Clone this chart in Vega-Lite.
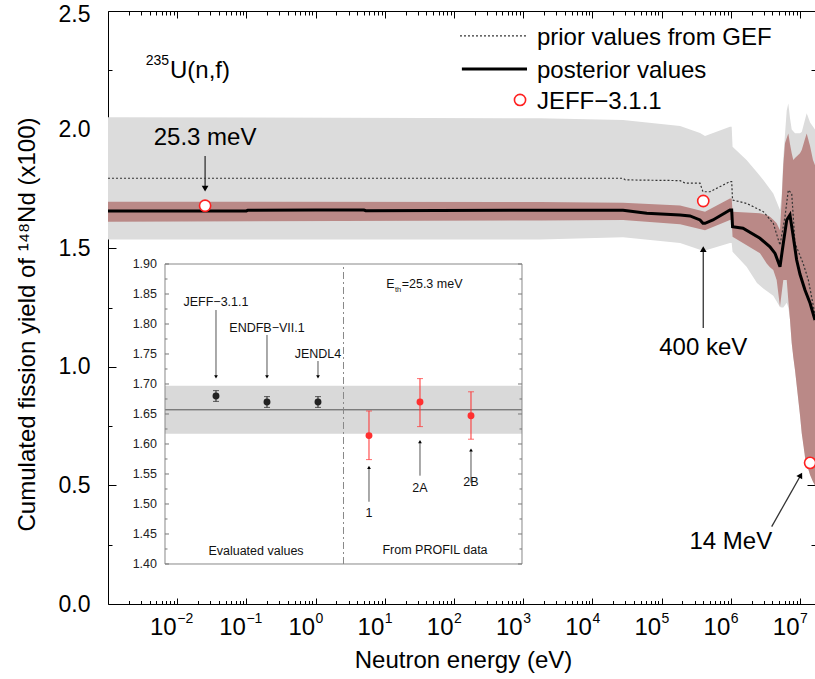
{
  "$schema": "https://vega.github.io/schema/vega-lite/v6.json",
  "width": 707,
  "height": 593,
  "autosize": {"type": "none"},
  "padding": {"left": 108, "top": 11, "right": 0, "bottom": 75},
  "config": {
    "font": "Liberation Sans",
    "view": {"stroke": "black", "strokeWidth": 1},
    "axis": {"grid": false, "domain": false, "labelFont": "Liberation Sans", "titleFont": "Liberation Sans", "tickColor": "black", "labelColor": "black", "titleColor": "black", "titleFontWeight": "normal", "zindex": 1, "tickWidth": 1},
    "text": {"font": "Liberation Sans", "color": "black"}
  },
  "datasets": {
    "gray": [{"E":0.001,"lo":1.537,"hi":2.052},{"E":1750,"lo":1.537,"hi":2.048},{"E":27700,"lo":1.546,"hi":2.040},{"E":185000,"lo":1.522,"hi":2.015},{"E":359000,"lo":1.493,"hi":1.986},{"E":424000,"lo":1.490,"hi":1.973},{"E":972000,"lo":1.522,"hi":2.012},{"E":1030000,"lo":1.522,"hi":2.012},{"E":1060000,"lo":1.485,"hi":1.928},{"E":1690000,"lo":1.422,"hi":1.872},{"E":2390000,"lo":1.353,"hi":1.82},{"E":2950000,"lo":1.33,"hi":1.788},{"E":4110000,"lo":1.30,"hi":1.731},{"E":5140000,"lo":1.252,"hi":1.661},{"E":5430000,"lo":1.25,"hi":1.72},{"E":5740000,"lo":1.25,"hi":1.88},{"E":6070000,"lo":1.26,"hi":1.98},{"E":6430000,"lo":1.27,"hi":2.08},{"E":6780000,"lo":1.25,"hi":2.11},{"E":7160000,"lo":1.20,"hi":2.05},{"E":7590000,"lo":1.10,"hi":2.0},{"E":8470000,"lo":0.987,"hi":1.985},{"E":10000000,"lo":0.797,"hi":1.985},{"E":10600000,"lo":0.72,"hi":1.99},{"E":12500000,"lo":0.59,"hi":2.069},{"E":14000000,"lo":0.544,"hi":2.03},{"E":16475000,"lo":0.50,"hi":2.0}],
    "brown": [{"E":0.001,"lo":1.612,"hi":1.696},{"E":1750,"lo":1.617,"hi":1.695},{"E":27700,"lo":1.619,"hi":1.692},{"E":185000,"lo":1.601,"hi":1.680},{"E":424000,"lo":1.576,"hi":1.654},{"E":972000,"lo":1.619,"hi":1.710},{"E":1030000,"lo":1.619,"hi":1.710},{"E":1060000,"lo":1.548,"hi":1.654},{"E":2640000,"lo":1.479,"hi":1.647},{"E":3300000,"lo":1.436,"hi":1.640},{"E":3680000,"lo":1.420,"hi":1.633},{"E":4110000,"lo":1.408,"hi":1.62},{"E":4600000,"lo":1.366,"hi":1.605},{"E":5140000,"lo":1.253,"hi":1.576},{"E":5430000,"lo":1.31,"hi":1.70},{"E":5740000,"lo":1.366,"hi":1.85},{"E":6070000,"lo":1.366,"hi":1.942},{"E":6430000,"lo":1.366,"hi":1.965},{"E":6780000,"lo":1.28,"hi":1.984},{"E":7160000,"lo":1.20,"hi":1.94},{"E":7590000,"lo":1.10,"hi":1.90},{"E":8000000,"lo":1.04,"hi":1.872},{"E":8470000,"lo":0.987,"hi":1.88},{"E":10000000,"lo":0.797,"hi":1.90},{"E":10600000,"lo":0.72,"hi":1.914},{"E":11800000,"lo":0.62,"hi":1.96},{"E":12500000,"lo":0.59,"hi":1.984},{"E":14000000,"lo":0.544,"hi":1.93},{"E":15400000,"lo":0.515,"hi":1.872},{"E":16475000,"lo":0.50,"hi":1.85}],
    "prior": [{"E":0.001,"v":1.795},{"E":27700,"v":1.795},{"E":30000,"v":1.788},{"E":185000,"v":1.785},{"E":220000,"v":1.774},{"E":359000,"v":1.774},{"E":396000,"v":1.738},{"E":500000,"v":1.738},{"E":972000,"v":1.781},{"E":1030000,"v":1.781},{"E":1060000,"v":1.703},{"E":1690000,"v":1.689},{"E":2950000,"v":1.654},{"E":4110000,"v":1.605},{"E":5140000,"v":1.513},{"E":6070000,"v":1.633},{"E":6780000,"v":1.745},{"E":7590000,"v":1.731},{"E":8470000,"v":1.521},{"E":11100000,"v":1.436},{"E":13200000,"v":1.366},{"E":16475000,"v":1.22}],
    "post": [{"E":0.001,"v":1.657},{"E":0.1,"v":1.657},{"E":0.105,"v":1.660},{"E":1,"v":1.661},{"E":5,"v":1.661},{"E":5.3,"v":1.658},{"E":1750,"v":1.660},{"E":27700,"v":1.660},{"E":61000,"v":1.647},{"E":185000,"v":1.640},{"E":257000,"v":1.636},{"E":359000,"v":1.619},{"E":396000,"v":1.605},{"E":424000,"v":1.605},{"E":553000,"v":1.619},{"E":972000,"v":1.661},{"E":1030000,"v":1.661},{"E":1060000,"v":1.591},{"E":1500000,"v":1.584},{"E":2640000,"v":1.542},{"E":3680000,"v":1.506},{"E":4360000,"v":1.478},{"E":5140000,"v":1.422},{"E":5740000,"v":1.521},{"E":6430000,"v":1.619},{"E":7160000,"v":1.640},{"E":8000000,"v":1.548},{"E":8950000,"v":1.450},{"E":10000000,"v":1.39},{"E":11800000,"v":1.324},{"E":14000000,"v":1.268},{"E":16475000,"v":1.197}],
    "jeff": [{"E":0.0253,"v":1.679},{"E":400000,"v":1.699},{"E":14000000,"v":0.595}],
    "decades": [{"E":0.01,"exp":"−2"},{"E":0.1,"exp":"−1"},{"E":1,"exp":"0"},{"E":10,"exp":"1"},{"E":100,"exp":"2"},{"E":1000,"exp":"3"},{"E":10000,"exp":"4"},{"E":100000,"exp":"5"},{"E":1000000,"exp":"6"},{"E":10000000,"exp":"7"}],
    "notes": [{"E":0.0253,"v":1.963,"t":"25.3 meV"},{"E":400000,"v":1.078,"t":"400 keV"},{"E":1000000,"v":0.263,"t":"14 MeV"}],
    "arrows": [{"E":0.0253,"v":1.889,"E2":0.0253,"v2":1.75},{"E":400000,"v":1.164,"E2":400000,"v2":1.49},{"E":3900000,"v":0.326,"E2":10240000,"v2":0.543}],
    "legendtext": [{"E":1580,"v":2.3567,"t":"prior values from GEF"},{"E":1580,"v":2.2196,"t":"posterior values"},{"E":1580,"v":2.0864,"t":"JEFF−3.1.1"}],
    "inset": [{"i":0,"v":1.680,"lo":1.671,"hi":1.689,"g":"eval"},{"i":1,"v":1.670,"lo":1.661,"hi":1.679,"g":"eval"},{"i":2,"v":1.670,"lo":1.661,"hi":1.679,"g":"eval"},{"i":3,"v":1.614,"lo":1.574,"hi":1.655,"g":"profil"},{"i":4,"v":1.670,"lo":1.629,"hi":1.709,"g":"profil"},{"i":5,"v":1.647,"lo":1.608,"hi":1.687,"g":"profil"}],
    "insetlabels": [{"i":0,"v":1.8372,"t":"JEFF−3.1.1"},{"i":1,"v":1.7938,"t":"ENDFB−VII.1"},{"i":2,"v":1.7495,"t":"JENDL4"},{"i":3,"v":1.4855,"t":"1"},{"i":4,"v":1.5272,"t":"2A"},{"i":5,"v":1.5367,"t":"2B"},{"i":0.784,"v":1.4222,"t":"Evaluated values"},{"i":4.294,"v":1.4233,"t":"From PROFIL data"}],
    "insetarrows": [{"i":0,"a":1.8233,"b":1.712},{"i":1,"a":1.7817,"b":1.712},{"i":2,"a":1.7383,"b":1.712},{"i":3,"a":1.5038,"b":1.561},{"i":4,"a":1.5472,"b":1.604},{"i":5,"a":1.5355,"b":1.590}],
    "insetband": [{"lo":1.617,"hi":1.697,"mean":1.657}],
    "insetmajor": [{"v":1.40},{"v":1.45},{"v":1.50},{"v":1.55},{"v":1.60},{"v":1.65},{"v":1.70},{"v":1.75},{"v":1.80},{"v":1.85},{"v":1.90}],
    "insetminor": [{"v":1.425},{"v":1.475},{"v":1.525},{"v":1.575},{"v":1.625},{"v":1.675},{"v":1.725},{"v":1.775},{"v":1.825},{"v":1.875}],
    "one": [{"E":1,"v":1.6}]
  },
  "resolve": {"scale": {"x": "independent", "y": "independent"}, "axis": {"x": "independent", "y": "independent"}},
  "layer": [
    {
      "layer": [
        {
          "data": {"name": "gray"},
          "mark": {"type": "area", "color": "#dcdcdc"},
          "encoding": {
            "x": {"field": "E", "type": "quantitative", "scale": {"type": "log", "domain": [0.001, 16475000], "nice": false}, "axis": null},
            "y": {"field": "lo", "type": "quantitative", "scale": {"domain": [0, 2.5], "nice": false, "zero": false}, "axis": null},
            "y2": {"field": "hi"}
          }
        },
        {
          "data": {"name": "brown"},
          "mark": {"type": "area", "color": "#ba8987"},
          "encoding": {
            "x": {"field": "E", "type": "quantitative", "scale": {"type": "log", "domain": [0.001, 16475000], "nice": false}, "axis": null},
            "y": {"field": "lo", "type": "quantitative", "scale": {"domain": [0, 2.5], "nice": false, "zero": false}, "axis": null},
            "y2": {"field": "hi"}
          }
        },
        {
          "data": {"name": "prior"},
          "mark": {"type": "line", "color": "#333333", "strokeWidth": 1.2, "strokeDash": [2, 2]},
          "encoding": {
            "x": {"field": "E", "type": "quantitative", "scale": {"type": "log", "domain": [0.001, 16475000], "nice": false}, "axis": null},
            "y": {"field": "v", "type": "quantitative", "scale": {"domain": [0, 2.5], "nice": false, "zero": false}, "axis": null}
          }
        },
        {
          "data": {"name": "post"},
          "mark": {"type": "line", "color": "black", "strokeWidth": 3},
          "encoding": {
            "x": {"field": "E", "type": "quantitative", "scale": {"type": "log", "domain": [0.001, 16475000], "nice": false}, "axis": null},
            "y": {"field": "v", "type": "quantitative", "scale": {"domain": [0, 2.5], "nice": false, "zero": false}, "axis": null}
          }
        },
        {
          "data": {"name": "arrows"},
          "mark": {"type": "rule", "color": "#333333", "strokeWidth": 1.3},
          "encoding": {
            "x": {"field": "E", "type": "quantitative", "scale": {"type": "log", "domain": [0.001, 16475000], "nice": false}, "axis": null},
            "x2": {"field": "E2"},
            "y": {"field": "v", "type": "quantitative", "scale": {"domain": [0, 2.5], "nice": false, "zero": false}, "axis": null},
            "y2": {"field": "v2"}
          }
        },
        {
          "data": {"values": [{"E": 0.0253, "v": 1.751}]},
          "mark": {"type": "point", "shape": "triangle-down", "filled": true, "color": "black", "size": 45, "opacity": 1},
          "encoding": {
            "x": {"field": "E", "type": "quantitative", "scale": {"type": "log", "domain": [0.001, 16475000], "nice": false}, "axis": null},
            "y": {"field": "v", "type": "quantitative", "scale": {"domain": [0, 2.5], "nice": false, "zero": false}, "axis": null}
          }
        },
        {
          "data": {"values": [{"E": 400000, "v": 1.496}]},
          "mark": {"type": "point", "shape": "triangle-up", "filled": true, "color": "black", "size": 45, "opacity": 1},
          "encoding": {
            "x": {"field": "E", "type": "quantitative", "scale": {"type": "log", "domain": [0.001, 16475000], "nice": false}, "axis": null},
            "y": {"field": "v", "type": "quantitative", "scale": {"domain": [0, 2.5], "nice": false, "zero": false}, "axis": null}
          }
        },
        {
          "data": {"values": [{"E": 10240000, "v": 0.543}]},
          "mark": {"type": "point", "shape": "triangle-up", "filled": true, "color": "black", "size": 45, "opacity": 1, "angle": 29},
          "encoding": {
            "x": {"field": "E", "type": "quantitative", "scale": {"type": "log", "domain": [0.001, 16475000], "nice": false}, "axis": null},
            "y": {"field": "v", "type": "quantitative", "scale": {"domain": [0, 2.5], "nice": false, "zero": false}, "axis": null}
          }
        },
        {
          "data": {"name": "jeff"},
          "mark": {"type": "point", "shape": "circle", "filled": true, "fill": "white", "stroke": "#ff2020", "strokeWidth": 1.6, "size": 125, "opacity": 1},
          "encoding": {
            "x": {"field": "E", "type": "quantitative", "scale": {"type": "log", "domain": [0.001, 16475000], "nice": false}, "axis": null},
            "y": {"field": "v", "type": "quantitative", "scale": {"domain": [0, 2.5], "nice": false, "zero": false}, "axis": null}
          }
        },
        {
          "data": {"name": "notes"},
          "mark": {"type": "text", "fontSize": 24, "align": "center", "baseline": "middle"},
          "encoding": {
            "x": {"field": "E", "type": "quantitative", "scale": {"type": "log", "domain": [0.001, 16475000], "nice": false}, "axis": null},
            "y": {"field": "v", "type": "quantitative", "scale": {"domain": [0, 2.5], "nice": false, "zero": false}, "axis": null},
            "text": {"field": "t"}
          }
        },
        {
          "data": {"values": [{"E1": 122, "E2": 1135, "v": 2.395}]},
          "mark": {"type": "rule", "color": "#333333", "strokeWidth": 1.2, "strokeDash": [2, 2]},
          "encoding": {
            "x": {"field": "E1", "type": "quantitative", "scale": {"type": "log", "domain": [0.001, 16475000], "nice": false}, "axis": null},
            "x2": {"field": "E2"},
            "y": {"field": "v", "type": "quantitative", "scale": {"domain": [0, 2.5], "nice": false, "zero": false}, "axis": null}
          }
        },
        {
          "data": {"values": [{"E1": 130, "E2": 1135, "v": 2.2555}]},
          "mark": {"type": "rule", "color": "black", "strokeWidth": 3},
          "encoding": {
            "x": {"field": "E1", "type": "quantitative", "scale": {"type": "log", "domain": [0.001, 16475000], "nice": false}, "axis": null},
            "x2": {"field": "E2"},
            "y": {"field": "v", "type": "quantitative", "scale": {"domain": [0, 2.5], "nice": false, "zero": false}, "axis": null}
          }
        },
        {
          "data": {"values": [{"E": 900, "v": 2.125}]},
          "mark": {"type": "point", "shape": "circle", "filled": true, "fill": "white", "stroke": "#ff2020", "strokeWidth": 1.6, "size": 125, "opacity": 1},
          "encoding": {
            "x": {"field": "E", "type": "quantitative", "scale": {"type": "log", "domain": [0.001, 16475000], "nice": false}, "axis": null},
            "y": {"field": "v", "type": "quantitative", "scale": {"domain": [0, 2.5], "nice": false, "zero": false}, "axis": null}
          }
        },
        {
          "data": {"name": "legendtext"},
          "mark": {"type": "text", "fontSize": 24, "align": "left", "baseline": "alphabetic"},
          "encoding": {
            "x": {"field": "E", "type": "quantitative", "scale": {"type": "log", "domain": [0.001, 16475000], "nice": false}, "axis": null},
            "y": {"field": "v", "type": "quantitative", "scale": {"domain": [0, 2.5], "nice": false, "zero": false}, "axis": null},
            "text": {"field": "t"}
          }
        },
        {
          "data": {"values": [{"E": 0.00787, "v": 2.216, "t": "U(n,f)"}]},
          "mark": {"type": "text", "fontSize": 24, "align": "left", "baseline": "alphabetic"},
          "encoding": {
            "x": {"field": "E", "type": "quantitative", "scale": {"type": "log", "domain": [0.001, 16475000], "nice": false}, "axis": null},
            "y": {"field": "v", "type": "quantitative", "scale": {"domain": [0, 2.5], "nice": false, "zero": false}, "axis": null},
            "text": {"field": "t"}
          }
        },
        {
          "data": {"values": [{"E": 0.00787, "v": 2.272, "t": "235"}]},
          "mark": {"type": "text", "fontSize": 14, "align": "right", "baseline": "alphabetic", "dx": -1},
          "encoding": {
            "x": {"field": "E", "type": "quantitative", "scale": {"type": "log", "domain": [0.001, 16475000], "nice": false}, "axis": null},
            "y": {"field": "v", "type": "quantitative", "scale": {"domain": [0, 2.5], "nice": false, "zero": false}, "axis": null},
            "text": {"field": "t"}
          }
        },
        {
          "data": {"name": "decades"},
          "mark": {"type": "text", "fontSize": 24, "align": "right", "baseline": "alphabetic", "text": "10", "dx": -0.5},
          "encoding": {
            "x": {"field": "E", "type": "quantitative", "scale": {"type": "log", "domain": [0.001, 16475000], "nice": false}, "axis": null},
            "y": {"datum": -0.1307, "type": "quantitative", "scale": {"domain": [0, 2.5], "nice": false, "zero": false}, "axis": null}
          }
        },
        {
          "data": {"name": "decades"},
          "mark": {"type": "text", "fontSize": 14, "align": "left", "baseline": "alphabetic"},
          "encoding": {
            "x": {"field": "E", "type": "quantitative", "scale": {"type": "log", "domain": [0.001, 16475000], "nice": false}, "axis": null},
            "y": {"datum": -0.0814, "type": "quantitative", "scale": {"domain": [0, 2.5], "nice": false, "zero": false}, "axis": null},
            "text": {"field": "exp"}
          }
        }
      ]
    },
    {
      "data": {"name": "one"},
      "mark": {"type": "point", "opacity": 0},
      "encoding": {
        "x": {"field": "E", "type": "quantitative", "scale": {"type": "log", "domain": [0.001, 16475000], "nice": false},
              "axis": {"orient": "bottom", "values": [0.01,0.1,1,10,100,1000,10000,100000,1000000,10000000], "offset": -6, "tickSize": 6, "labels": false, "title": "Neutron energy (eV)", "titleFontSize": 24, "titleX": 355, "titleY": 69, "titleBaseline": "alphabetic", "titleAlign": "center"}},
        "y": {"field": "v", "type": "quantitative", "scale": {"domain": [0, 2.5], "nice": false, "zero": false},
              "axis": {"orient": "left", "values": [0,0.5,1,1.5,2,2.5], "offset": -8, "tickSize": 8, "format": ".1f", "labelFontSize": 23, "labelPadding": 18, "labelBaseline": "middle", "labelAlign": "right", "labelFlush": false, "labelOffset": {"condition": {"test": "datum.value > 2.4", "value": 3}, "value": 0}, "title": "Cumulated fission yield of ¹⁴⁸Nd (x100)", "titleFontSize": 24, "titleX": -89, "titleY": 313, "titleAngle": 270, "titleBaseline": "middle", "titleAlign": "center"}}
      }
    },
    {
      "data": {"name": "one"},
      "mark": {"type": "point", "opacity": 0},
      "encoding": {
        "x": {"field": "E", "type": "quantitative", "scale": {"type": "log", "domain": [0.001, 16475000], "nice": false},
              "axis": {"orient": "bottom", "values": [0.002,0.003,0.004,0.005,0.006,0.007,0.008,0.009,0.02,0.03,0.04,0.05,0.06,0.07,0.08,0.09,0.2,0.3,0.4,0.5,0.6,0.7,0.8,0.9,2,3,4,5,6,7,8,9,20,30,40,50,60,70,80,90,200,300,400,500,600,700,800,900,2000,3000,4000,5000,6000,7000,8000,9000,20000,30000,40000,50000,60000,70000,80000,90000,200000,300000,400000,500000,600000,700000,800000,900000,2000000,3000000,4000000,5000000,6000000,7000000,8000000,9000000], "offset": -3.5, "tickSize": 3.5, "labels": false, "title": null}},
        "y": {"field": "v", "type": "quantitative", "scale": {"domain": [0, 2.5], "nice": false, "zero": false},
              "axis": {"orient": "left", "values": [0.25,0.75,1.25,1.75,2.25], "offset": -4, "tickSize": 4, "labels": false, "title": null}}
      }
    },
    {
      "data": {"name": "one"},
      "mark": {"type": "point", "opacity": 0},
      "encoding": {
        "x": {"field": "E", "type": "quantitative", "scale": {"type": "log", "domain": [0.001, 16475000], "nice": false},
              "axis": {"orient": "top", "values": [0.01,0.1,1,10,100,1000,10000,100000,1000000,10000000], "offset": -7, "tickSize": 7, "labels": false, "title": null}},
        "y": {"field": "v", "type": "quantitative", "scale": {"domain": [0, 2.5], "nice": false, "zero": false},
              "axis": {"orient": "right", "values": [0,0.5,1,1.5,2,2.5], "offset": -8, "tickSize": 8, "labels": false, "title": null}}
      }
    },
    {
      "data": {"name": "one"},
      "mark": {"type": "point", "opacity": 0},
      "encoding": {
        "x": {"field": "E", "type": "quantitative", "scale": {"type": "log", "domain": [0.001, 16475000], "nice": false},
              "axis": {"orient": "top", "values": [0.002,0.003,0.004,0.005,0.006,0.007,0.008,0.009,0.02,0.03,0.04,0.05,0.06,0.07,0.08,0.09,0.2,0.3,0.4,0.5,0.6,0.7,0.8,0.9,2,3,4,5,6,7,8,9,20,30,40,50,60,70,80,90,200,300,400,500,600,700,800,900,2000,3000,4000,5000,6000,7000,8000,9000,20000,30000,40000,50000,60000,70000,80000,90000,200000,300000,400000,500000,600000,700000,800000,900000,2000000,3000000,4000000,5000000,6000000,7000000,8000000,9000000], "offset": -4, "tickSize": 4, "labels": false, "title": null}},
        "y": {"field": "v", "type": "quantitative", "scale": {"domain": [0, 2.5], "nice": false, "zero": false},
              "axis": {"orient": "right", "values": [0.25,0.75,1.25,1.75,2.25], "offset": -4, "tickSize": 4, "labels": false, "title": null}}
      }
    },
    {
      "layer": [
        {
          "data": {"name": "one"},
          "mark": {"type": "rect", "fill": "white", "strokeWidth": 0},
          "encoding": {
            "x": {"datum": -1.94, "type": "quantitative", "scale": {"domain": [-2.1176, 11.7451], "nice": false, "zero": false}, "axis": null},
            "x2": {"datum": 6.37},
            "y": {"datum": 1.3933, "type": "quantitative", "scale": {"domain": [1.333333, 2.321667], "nice": false, "zero": false}, "axis": null},
            "y2": {"datum": 1.91}
          }
        },
        {
          "data": {"name": "insetband"},
          "mark": {"type": "rect", "color": "#d9d9d9"},
          "encoding": {
            "x": {"datum": -1, "type": "quantitative", "scale": {"domain": [-2.1176, 11.7451], "nice": false, "zero": false}, "axis": null},
            "x2": {"datum": 6},
            "y": {"field": "lo", "type": "quantitative", "scale": {"domain": [1.333333, 2.321667], "nice": false, "zero": false}, "axis": null},
            "y2": {"field": "hi"}
          }
        },
        {
          "data": {"name": "insetband"},
          "mark": {"type": "rule", "color": "#555555", "strokeWidth": 1},
          "encoding": {
            "x": {"datum": -1, "type": "quantitative", "scale": {"domain": [-2.1176, 11.7451], "nice": false, "zero": false}, "axis": null},
            "x2": {"datum": 6},
            "y": {"field": "mean", "type": "quantitative", "scale": {"domain": [1.333333, 2.321667], "nice": false, "zero": false}, "axis": null}
          }
        },
        {
          "data": {"name": "one"},
          "mark": {"type": "rule", "color": "#888888", "strokeWidth": 1, "strokeDash": [7, 3, 2, 3]},
          "encoding": {
            "x": {"datum": 2.5, "type": "quantitative", "scale": {"domain": [-2.1176, 11.7451], "nice": false, "zero": false}, "axis": null},
            "y": {"datum": 1.4, "type": "quantitative", "scale": {"domain": [1.333333, 2.321667], "nice": false, "zero": false}, "axis": null},
            "y2": {"datum": 1.9}
          }
        },
        {
          "data": {"name": "one"},
          "mark": {"type": "rect", "fillOpacity": 0, "stroke": "#888888", "strokeWidth": 1},
          "encoding": {
            "x": {"datum": -1, "type": "quantitative", "scale": {"domain": [-2.1176, 11.7451], "nice": false, "zero": false}, "axis": null},
            "x2": {"datum": 6},
            "y": {"datum": 1.4, "type": "quantitative", "scale": {"domain": [1.333333, 2.321667], "nice": false, "zero": false}, "axis": null},
            "y2": {"datum": 1.9}
          }
        },
        {
          "data": {"name": "insetmajor"},
          "mark": {"type": "rule", "color": "#777777", "strokeWidth": 1},
          "encoding": {
            "x": {"datum": -1, "type": "quantitative", "scale": {"domain": [-2.1176, 11.7451], "nice": false, "zero": false}, "axis": null},
            "x2": {"datum": -0.9216},
            "y": {"field": "v", "type": "quantitative", "scale": {"domain": [1.333333, 2.321667], "nice": false, "zero": false}, "axis": null}
          }
        },
        {
          "data": {"name": "insetmajor"},
          "mark": {"type": "rule", "color": "#777777", "strokeWidth": 1},
          "encoding": {
            "x": {"datum": 5.9216, "type": "quantitative", "scale": {"domain": [-2.1176, 11.7451], "nice": false, "zero": false}, "axis": null},
            "x2": {"datum": 6},
            "y": {"field": "v", "type": "quantitative", "scale": {"domain": [1.333333, 2.321667], "nice": false, "zero": false}, "axis": null}
          }
        },
        {
          "data": {"name": "insetminor"},
          "mark": {"type": "rule", "color": "#777777", "strokeWidth": 1},
          "encoding": {
            "x": {"datum": -1, "type": "quantitative", "scale": {"domain": [-2.1176, 11.7451], "nice": false, "zero": false}, "axis": null},
            "x2": {"datum": -0.951},
            "y": {"field": "v", "type": "quantitative", "scale": {"domain": [1.333333, 2.321667], "nice": false, "zero": false}, "axis": null}
          }
        },
        {
          "data": {"name": "insetminor"},
          "mark": {"type": "rule", "color": "#777777", "strokeWidth": 1},
          "encoding": {
            "x": {"datum": 5.951, "type": "quantitative", "scale": {"domain": [-2.1176, 11.7451], "nice": false, "zero": false}, "axis": null},
            "x2": {"datum": 6},
            "y": {"field": "v", "type": "quantitative", "scale": {"domain": [1.333333, 2.321667], "nice": false, "zero": false}, "axis": null}
          }
        },
        {
          "data": {"name": "insetmajor"},
          "mark": {"type": "text", "fontSize": 12.5, "align": "right", "baseline": "middle", "dx": -8, "color": "#222222"},
          "encoding": {
            "x": {"datum": -1, "type": "quantitative", "scale": {"domain": [-2.1176, 11.7451], "nice": false, "zero": false}, "axis": null},
            "y": {"field": "v", "type": "quantitative", "scale": {"domain": [1.333333, 2.321667], "nice": false, "zero": false}, "axis": null},
            "text": {"field": "v", "type": "quantitative", "format": ".2f"}
          }
        },
        {
          "data": {"name": "inset"},
          "mark": {"type": "rule", "strokeWidth": 1},
          "encoding": {
            "x": {"field": "i", "type": "quantitative", "scale": {"domain": [-2.1176, 11.7451], "nice": false, "zero": false}, "axis": null},
            "y": {"field": "lo", "type": "quantitative", "scale": {"domain": [1.333333, 2.321667], "nice": false, "zero": false}, "axis": null},
            "y2": {"field": "hi"},
            "color": {"field": "g", "type": "nominal", "scale": {"domain": ["eval", "profil"], "range": ["#222222", "#ff3030"]}, "legend": null}
          }
        },
        {
          "data": {"name": "inset"},
          "mark": {"type": "tick", "orient": "horizontal", "size": 6, "thickness": 1},
          "encoding": {
            "x": {"field": "i", "type": "quantitative", "scale": {"domain": [-2.1176, 11.7451], "nice": false, "zero": false}, "axis": null},
            "y": {"field": "lo", "type": "quantitative", "scale": {"domain": [1.333333, 2.321667], "nice": false, "zero": false}, "axis": null},
            "color": {"field": "g", "type": "nominal", "scale": {"domain": ["eval", "profil"], "range": ["#222222", "#ff3030"]}, "legend": null}
          }
        },
        {
          "data": {"name": "inset"},
          "mark": {"type": "tick", "orient": "horizontal", "size": 6, "thickness": 1},
          "encoding": {
            "x": {"field": "i", "type": "quantitative", "scale": {"domain": [-2.1176, 11.7451], "nice": false, "zero": false}, "axis": null},
            "y": {"field": "hi", "type": "quantitative", "scale": {"domain": [1.333333, 2.321667], "nice": false, "zero": false}, "axis": null},
            "color": {"field": "g", "type": "nominal", "scale": {"domain": ["eval", "profil"], "range": ["#222222", "#ff3030"]}, "legend": null}
          }
        },
        {
          "data": {"name": "inset"},
          "mark": {"type": "point", "shape": "circle", "filled": true, "size": 48, "opacity": 1},
          "encoding": {
            "x": {"field": "i", "type": "quantitative", "scale": {"domain": [-2.1176, 11.7451], "nice": false, "zero": false}, "axis": null},
            "y": {"field": "v", "type": "quantitative", "scale": {"domain": [1.333333, 2.321667], "nice": false, "zero": false}, "axis": null},
            "color": {"field": "g", "type": "nominal", "scale": {"domain": ["eval", "profil"], "range": ["black", "#ff0000"]}, "legend": null}
          }
        },
        {
          "data": {"name": "insetarrows"},
          "mark": {"type": "rule", "color": "#555555", "strokeWidth": 1},
          "encoding": {
            "x": {"field": "i", "type": "quantitative", "scale": {"domain": [-2.1176, 11.7451], "nice": false, "zero": false}, "axis": null},
            "y": {"field": "a", "type": "quantitative", "scale": {"domain": [1.333333, 2.321667], "nice": false, "zero": false}, "axis": null},
            "y2": {"field": "b"}
          }
        },
        {
          "data": {"name": "insetarrows"},
          "transform": [{"filter": "datum.i < 3"}],
          "mark": {"type": "point", "shape": "triangle-down", "filled": true, "color": "black", "size": 14, "opacity": 1},
          "encoding": {
            "x": {"field": "i", "type": "quantitative", "scale": {"domain": [-2.1176, 11.7451], "nice": false, "zero": false}, "axis": null},
            "y": {"field": "b", "type": "quantitative", "scale": {"domain": [1.333333, 2.321667], "nice": false, "zero": false}, "axis": null}
          }
        },
        {
          "data": {"name": "insetarrows"},
          "transform": [{"filter": "datum.i >= 3"}],
          "mark": {"type": "point", "shape": "triangle-up", "filled": true, "color": "black", "size": 14, "opacity": 1},
          "encoding": {
            "x": {"field": "i", "type": "quantitative", "scale": {"domain": [-2.1176, 11.7451], "nice": false, "zero": false}, "axis": null},
            "y": {"field": "b", "type": "quantitative", "scale": {"domain": [1.333333, 2.321667], "nice": false, "zero": false}, "axis": null}
          }
        },
        {
          "data": {"name": "insetlabels"},
          "mark": {"type": "text", "fontSize": 12.5, "align": "center", "baseline": "middle", "color": "#111111"},
          "encoding": {
            "x": {"field": "i", "type": "quantitative", "scale": {"domain": [-2.1176, 11.7451], "nice": false, "zero": false}, "axis": null},
            "y": {"field": "v", "type": "quantitative", "scale": {"domain": [1.333333, 2.321667], "nice": false, "zero": false}, "axis": null},
            "text": {"field": "t"}
          }
        },
        {
          "data": {"values": [{"i": 3.5, "v": 1.8662, "t": "E"}]},
          "mark": {"type": "text", "fontSize": 12.5, "align": "right", "baseline": "middle", "color": "#111111"},
          "encoding": {
            "x": {"field": "i", "type": "quantitative", "scale": {"domain": [-2.1176, 11.7451], "nice": false, "zero": false}, "axis": null},
            "y": {"field": "v", "type": "quantitative", "scale": {"domain": [1.333333, 2.321667], "nice": false, "zero": false}, "axis": null},
            "text": {"field": "t"}
          }
        },
        {
          "data": {"values": [{"i": 3.51, "v": 1.857, "t": "th"}]},
          "mark": {"type": "text", "fontSize": 7.5, "align": "left", "baseline": "middle", "color": "#111111"},
          "encoding": {
            "x": {"field": "i", "type": "quantitative", "scale": {"domain": [-2.1176, 11.7451], "nice": false, "zero": false}, "axis": null},
            "y": {"field": "v", "type": "quantitative", "scale": {"domain": [1.333333, 2.321667], "nice": false, "zero": false}, "axis": null},
            "text": {"field": "t"}
          }
        },
        {
          "data": {"values": [{"i": 3.641, "v": 1.8662, "t": "=25.3 meV"}]},
          "mark": {"type": "text", "fontSize": 12.5, "align": "left", "baseline": "middle", "color": "#111111"},
          "encoding": {
            "x": {"field": "i", "type": "quantitative", "scale": {"domain": [-2.1176, 11.7451], "nice": false, "zero": false}, "axis": null},
            "y": {"field": "v", "type": "quantitative", "scale": {"domain": [1.333333, 2.321667], "nice": false, "zero": false}, "axis": null},
            "text": {"field": "t"}
          }
        }
      ]
    }
  ]
}
